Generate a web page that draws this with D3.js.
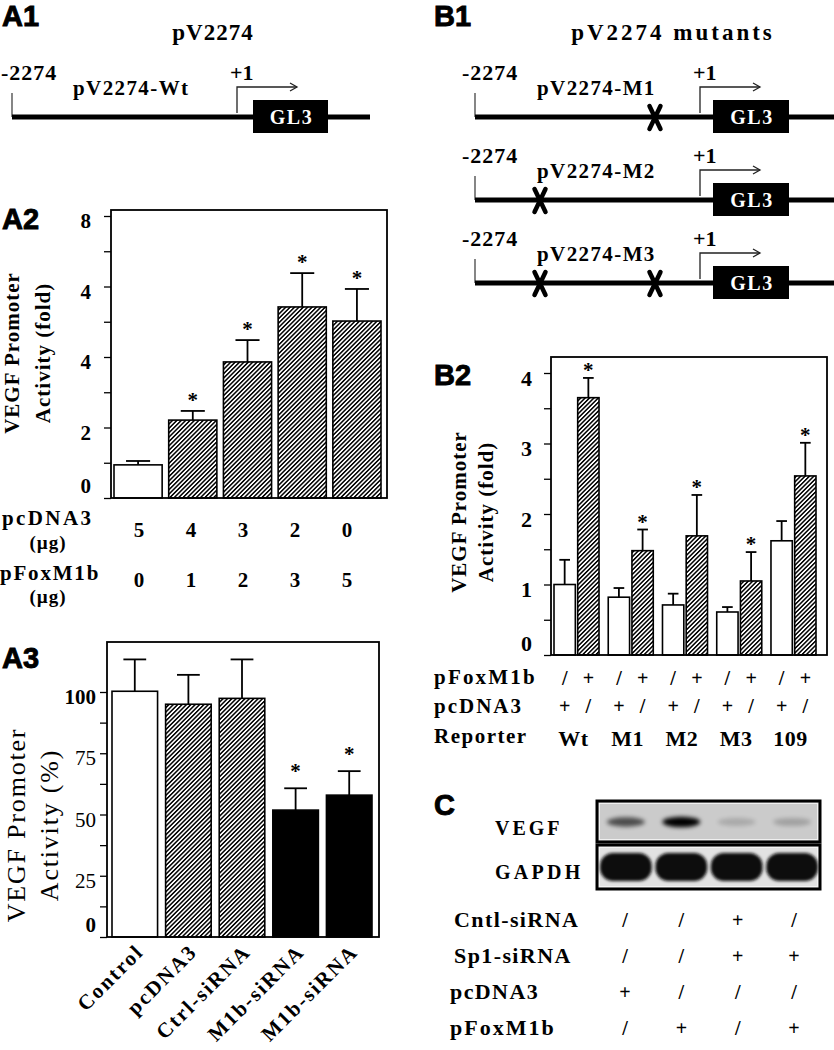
<!DOCTYPE html>
<html><head><meta charset="utf-8">
<script src="https://cdn.jsdelivr.net/npm/d3@7"></script>
<style>
body{margin:0;background:#fff}
svg{display:block;background:#fff}
</style>
</head><body>
<svg id="c" width="834" height="1050"></svg>
<script>
// ---------------- DATA ----------------
// A2
const a2Means = [0.94, 2.21, 3.86, 5.42, 5.02];
const a2Errs = [0.11, 0.26, 0.62, 0.96, 0.91];
const a2Fills = ["open", "hatch", "hatch", "hatch", "hatch"];
const a2Sig = [false, true, true, true, true];
const a2TickValues = [0, 1, 2, 3, 4, 5, 6, 7, 8];
const a2TickLabels = ["0", "", "2", "", "4", "", "4", "", "8"];
const a2PcDNA3 = ["5", "4", "3", "2", "0"];
const a2PFoxM1b = ["0", "1", "2", "3", "5"];
// A3
const a3Categories = ["Control", "pcDNA3", "Ctrl-siRNA", "M1b-siRNA", "M1b-siRNA"];
const a3Means = [100.3, 95.0, 97.4, 51.8, 57.9];
const a3Errs = [13.0, 12.0, 15.9, 8.9, 9.8];
const a3Fills = ["open", "hatch", "hatch", "solid", "solid"];
const a3Sig = [false, false, false, true, true];
const a3TickValues = [0, 12.5, 25, 37.5, 50, 62.5, 75, 87.5, 100];
const a3TickLabels = {0: "0", 25: "25", 50: "50", 75: "75", 100: "100"};
// B2
const b2Groups = ["Wt", "M1", "M2", "M3", "109"];
const b2Series = ["pcDNA3", "pFoxM1b"];
const b2Control = [1.00, 0.82, 0.71, 0.61, 1.62];
const b2ControlErr = [0.35, 0.13, 0.16, 0.07, 0.28];
const b2FoxM1b = [3.65, 1.48, 1.69, 1.05, 2.54];
const b2FoxM1bErr = [0.28, 0.30, 0.58, 0.41, 0.47];
const b2TickValues = [0, 0.5, 1, 1.5, 2, 2.5, 3, 3.5, 4];
const b2RowPFox = ["/", "+"];
const b2RowPc = ["+", "/"];
// B1 constructs
const b1Constructs = ["pV2274-M1", "pV2274-M2", "pV2274-M3"];
const b1Mutations = [[-455], [-1617], [-1617, -455]];
// C
const cLanes = [1, 2, 3, 4];
const cVegf = [0.62, 1.0, 0.16, 0.2];
const cGapdh = [1, 1, 1, 1];
const cRowLabels = ["Cntl-siRNA", "Sp1-siRNA", "pcDNA3", "pFoxM1b"];
const cRowCntl = ["/", "/", "+", "/"];
const cRowSp1 = ["/", "/", "+", "+"];
const cRowPc = ["+", "/", "/", "/"];
const cRowFox = ["/", "+", "/", "+"];

// ---------------- HELPERS ----------------
const svg = d3.select("#c");
const SERIF = "'Liberation Serif','Times New Roman',serif";
const SANS = "'Liberation Sans',Arial,sans-serif";
const defs = svg.append("defs");
const pat = defs.append("pattern").attr("id", "hatch").attr("patternUnits", "userSpaceOnUse")
  .attr("width", 3.1).attr("height", 3.1).attr("patternTransform", "rotate(45)");
pat.append("rect").attr("width", 3.1).attr("height", 3.1).attr("fill", "#fff");
pat.append("rect").attr("x", 0).attr("y", 0).attr("width", 1.5).attr("height", 3.1).attr("fill", "#000");
const f1 = defs.append("filter").attr("id", "blurV").attr("x", "-50%").attr("y", "-100%").attr("width", "200%").attr("height", "300%");
f1.append("feGaussianBlur").attr("stdDeviation", 2.2);
const f2 = defs.append("filter").attr("id", "blurG").attr("x", "-20%").attr("y", "-50%").attr("width", "140%").attr("height", "200%");
f2.append("feGaussianBlur").attr("stdDeviation", 1.4);

function fillOf(t) { return t === "open" ? "#fff" : t === "hatch" ? "url(#hatch)" : "#000"; }

function txt(x, y, s, o = {}) {
  const t = svg.append("text").attr("x", x).attr("y", y).text(s)
    .style("font-family", o.family || SERIF)
    .style("font-size", (o.size || 20) + "px")
    .style("letter-spacing", (o.ls !== undefined ? o.ls : 1) + "px")
    .style("font-weight", o.weight || "bold")
    .attr("text-anchor", o.anchor || "start")
    .attr("fill", o.fill || "#000");
  if (o.transform) t.attr("transform", o.transform);
  return t;
}
function panelLabel(x, y, s) {
  txt(x, y, s, {family: SANS, size: 29, ls: 0}).attr("stroke", "#000").attr("stroke-width", 0.9);
}
function yAxis(x, scale, vals, fmt, padding, size, weightFn) {
  const ax = d3.axisLeft(scale).tickValues(vals).tickSize(7).tickPadding(padding).tickFormat(fmt);
  const g = svg.append("g").attr("transform", `translate(${x},0)`).call(ax);
  g.select(".domain").remove();
  g.selectAll(".tick line").attr("stroke", "#000").attr("stroke-width", 1.3);
  g.selectAll(".tick text")
    .style("font-family", SERIF).style("font-size", size + "px")
    .style("font-weight", d => weightFn ? weightFn(d) : "bold")
    .attr("fill", "#000")
    .attr("transform", d => `translate(0,${d === 0 ? -12 : 5})`);
  return g;
}
function frame(x0, y0, x1, y1) {
  svg.append("rect").attr("x", x0).attr("y", y0).attr("width", x1 - x0).attr("height", y1 - y0)
    .attr("fill", "none").attr("stroke", "#000").attr("stroke-width", 1.8);
}
function errBar(cx, yTop, yErr, w) {
  svg.append("line").attr("x1", cx).attr("x2", cx).attr("y1", yTop).attr("y2", yErr)
    .attr("stroke", "#000").attr("stroke-width", 1.8);
  svg.append("line").attr("x1", cx - w / 2).attr("x2", cx + w / 2).attr("y1", yErr).attr("y2", yErr)
    .attr("stroke", "#000").attr("stroke-width", 1.8);
}
function star(cx, yErr) {
  txt(cx, yErr - 4, "*", {size: 21, anchor: "middle", ls: 0});
}
function rotLabel(x, y, lines, size, weight, gap, ls) {
  lines.forEach((s, i) => {
    txt(0, 0, s, {size: size, anchor: "middle", weight: weight, ls: ls,
      transform: `translate(${x + i * gap},${y}) rotate(-90)`});
  });
}

// ---------------- A1 / B1 diagrams ----------------
function construct(o) {
  const y = o.y;
  svg.append("path").attr("d", `M${o.start},${y - 24}V${y}`).attr("fill", "none")
    .attr("stroke", "#444").attr("stroke-width", 1.3);
  svg.append("line").attr("x1", o.start).attr("x2", o.end).attr("y1", y).attr("y2", y)
    .attr("stroke", "#000").attr("stroke-width", 5);
  svg.append("path").attr("d", `M${o.tss},${y - 4}V${y - 30}H${o.tss + 60}`).attr("fill", "none")
    .attr("stroke", "#222").attr("stroke-width", 1.3);
  svg.append("path").attr("d", `M${o.tss + 53},${y - 34}L${o.tss + 60},${y - 30}L${o.tss + 53},${y - 26}`)
    .attr("fill", "none").attr("stroke", "#222").attr("stroke-width", 1.3);
  svg.append("rect").attr("x", o.box0).attr("y", y - 17).attr("width", o.box1 - o.box0).attr("height", 33).attr("fill", "#000");
  txt((o.box0 + o.box1) / 2 + 1, y + 7, "GL3", {size: 20, anchor: "middle", fill: "#fff", ls: 1.5});
  txt(o.numX, y - 37, "-2274", {size: 22, ls: 1});
  txt(o.labelX, y - 22, o.label, {size: 21, ls: 1.4});
  txt(o.tss - 7, y - 37, "+1", {size: 22, ls: 0});
  (o.muts || []).forEach(mx => {
    svg.append("path").attr("d", `M${mx - 5.5},${y - 11}L${mx + 5.5},${y + 12}M${mx + 5.5},${y - 11}L${mx - 5.5},${y + 12}`)
      .attr("stroke", "#000").attr("stroke-width", 4.5).attr("stroke-linecap", "round");
  });
}
panelLabel(2, 26, "A1");
txt(213, 40, "pV2274", {size: 23, anchor: "middle", ls: 1});
construct({y: 117, start: 12, end: 370, tss: 237, box0: 253, box1: 328, numX: 1, labelX: 73, label: "pV2274-Wt"});

panelLabel(434, 26, "B1");
txt(673, 40, "pV2274 mutants", {size: 23, anchor: "middle", ls: 3});
const b1x = d3.scaleLinear().domain([-2274, 0]).range([475, 700]);
const b1y = d3.scalePoint().domain(b1Constructs).range([117, 283]);
b1Constructs.forEach((c, i) => {
  construct({y: b1y(c), start: 475, end: 834, tss: 700, box0: 713, box1: 789, numX: 462, labelX: 537,
    label: c, muts: b1Mutations[i].map(b1x)});
});

// ---------------- A2 ----------------
panelLabel(2, 229, "A2");
const a2y = d3.scaleLinear().domain([0, 8]).range([498, 216]);
const a2x = d3.scaleBand().domain(d3.range(a2Means.length)).range([114, 381]).paddingInner(0.12);
a2Means.forEach((v, i) => {
  svg.append("rect").attr("x", a2x(i)).attr("y", a2y(v)).attr("width", a2x.bandwidth()).attr("height", a2y(0) - a2y(v))
    .attr("fill", fillOf(a2Fills[i])).attr("stroke", "#000").attr("stroke-width", 1.6);
  const cx = a2x(i) + a2x.bandwidth() / 2;
  errBar(cx, a2y(v), a2y(v + a2Errs[i]), a2x.bandwidth() / 2);
  if (a2Sig[i]) star(cx, a2y(v + a2Errs[i]));
});
frame(111, 210, 387, 498);
yAxis(111, a2y, a2TickValues, (d, i) => a2TickLabels[i], 13, 21);
rotLabel(19, 353, ["VEGF Promoter", "Activity (fold)"], 21, "bold", 31, 1);
const a2tab = d3.scalePoint().domain(d3.range(a2PcDNA3.length)).range([139, 347]);
txt(2, 525, "pcDNA3", {size: 21, ls: 2.4});
txt(48, 549, "(µg)", {size: 19, ls: 1, anchor: "middle"});
txt(0, 580, "pFoxM1b", {size: 21, ls: 1.8});
txt(48, 603, "(µg)", {size: 19, ls: 1, anchor: "middle"});
a2PcDNA3.forEach((s, i) => txt(a2tab(i), 537, s, {size: 21, anchor: "middle", ls: 0}));
a2PFoxM1b.forEach((s, i) => txt(a2tab(i), 587, s, {size: 21, anchor: "middle", ls: 0}));

// ---------------- A3 ----------------
panelLabel(2, 668, "A3");
const a3y = d3.scaleLinear().domain([0, 100]).range([937, 692]);
const a3x = d3.scaleBand().domain(d3.range(a3Means.length)).range([112, 372]).paddingInner(0.15);
a3Means.forEach((v, i) => {
  svg.append("rect").attr("x", a3x(i)).attr("y", a3y(v)).attr("width", a3x.bandwidth()).attr("height", a3y(0) - a3y(v))
    .attr("fill", fillOf(a3Fills[i])).attr("stroke", "#000").attr("stroke-width", 1.6);
  const cx = a3x(i) + a3x.bandwidth() / 2;
  errBar(cx, a3y(v), a3y(v + a3Errs[i]), a3x.bandwidth() / 2);
  if (a3Sig[i]) star(cx, a3y(v + a3Errs[i]) - 6);
  txt(0, 0, a3Categories[i], {size: 21, anchor: "end", ls: 2,
    transform: `translate(${cx + 10},${953}) rotate(-45)`});
});
frame(107, 642, 379, 937);
yAxis(107, a3y, a3TickValues, d => a3TickLabels[d] || "", 4, 21, d => (d === 0 || d === 100) ? "bold" : "normal");
rotLabel(25, 825, ["VEGF Promoter", "Activity (%)"], 26, "normal", 33, 1.8);

// ---------------- B2 ----------------
panelLabel(434, 385, "B2");
const b2y = d3.scaleLinear().domain([0, 4]).range([655, 373]);
const b2x = d3.scaleBand().domain(b2Groups).range([554, 816]).paddingInner(0.17);
const b2s = d3.scaleBand().domain(b2Series).range([0, b2x.bandwidth()]).paddingInner(0.1);
const b2Vals = [b2Control, b2FoxM1b], b2Errs = [b2ControlErr, b2FoxM1bErr];
b2Groups.forEach((g, gi) => {
  b2Series.forEach((s, si) => {
    const v = b2Vals[si][gi], e = b2Errs[si][gi];
    const x = b2x(g) + b2s(s);
    svg.append("rect").attr("x", x).attr("y", b2y(v)).attr("width", b2s.bandwidth()).attr("height", b2y(0) - b2y(v))
      .attr("fill", si === 0 ? "#fff" : "url(#hatch)").attr("stroke", "#000").attr("stroke-width", 1.6);
    const cx = x + b2s.bandwidth() / 2;
    errBar(cx, b2y(v), b2y(v + e), b2s.bandwidth() / 2);
    if (si === 1) star(cx, b2y(v + e) + 3);
    txt(cx, 685, b2RowPFox[si], {size: 20, anchor: "middle", ls: 0});
    txt(cx, 713, b2RowPc[si], {size: 20, anchor: "middle", ls: 0});
  });
  txt(b2x(g) + b2x.bandwidth() / 2 - 3, 746, g, {size: 22, anchor: "middle", ls: 0.5});
});
frame(551, 357, 827, 655);
yAxis(551, b2y, b2TickValues, d => Number.isInteger(d) ? String(d) : "", 12, 22);
rotLabel(466, 512, ["VEGF Promoter", "Activity (fold)"], 21, "bold", 27, 1);
txt(434, 684, "pFoxM1b", {size: 21, ls: 2.2});
txt(434, 713, "pcDNA3", {size: 21, ls: 2});
txt(434, 743, "Reporter", {size: 21, ls: 1.5});

// ---------------- C ----------------
txt(434, 815, "C", {family: SANS, size: 29, ls: 0}).attr("stroke", "#000").attr("stroke-width", 0.9);
const laneX = d3.scaleBand().domain(cLanes).range([599, 819]).paddingInner(0.03);
function blotBox(y0, h, bg) {
  svg.append("rect").attr("x", 597).attr("y", y0).attr("width", 223).attr("height", h)
    .attr("fill", bg).attr("stroke", "#000").attr("stroke-width", 3);
  svg.append("rect").attr("x", 599.5).attr("y", y0 + 2.5).attr("width", 218).attr("height", h - 5)
    .attr("fill", "none").attr("stroke", "#f4f4f4").attr("stroke-width", 0.9);
}
blotBox(801, 41, "#cbcbcb");
cLanes.forEach((l, i) => {
  svg.append("ellipse").attr("cx", laneX(l) + laneX.bandwidth() / 2).attr("cy", 822)
    .attr("rx", 19).attr("ry", 3.8 + 1.4 * cVegf[i]).attr("fill", "#000")
    .attr("opacity", cVegf[i]).attr("filter", "url(#blurV)");
});
blotBox(845, 44, "#e2e2e2");
cLanes.forEach((l, i) => {
  svg.append("rect").attr("x", laneX(l) + 1).attr("y", 853).attr("width", laneX.bandwidth() - 2).attr("height", 28)
    .attr("rx", 13).attr("fill", "#111").attr("opacity", cGapdh[i]).attr("filter", "url(#blurG)");
});
txt(495, 835, "VEGF", {size: 20, ls: 3});
txt(495, 879, "GAPDH", {size: 20, ls: 3.3});
const cRows = [cRowCntl, cRowSp1, cRowPc, cRowFox];
const cRowY = d3.scalePoint().domain(cRowLabels).range([927, 1035]);
const cLabelX = [454, 454, 450, 450];
const cTab = d3.scalePoint().domain(cLanes).range([625, 794]);
cRowLabels.forEach((lab, r) => {
  txt(cLabelX[r], cRowY(lab), lab, {size: 22, ls: r === 3 ? 2 : 1.4});
  cRows[r].forEach((s, li) => txt(cTab(cLanes[li]), cRowY(lab), s, {size: 20, anchor: "middle", ls: 0}));
});
</script>
</body></html>
